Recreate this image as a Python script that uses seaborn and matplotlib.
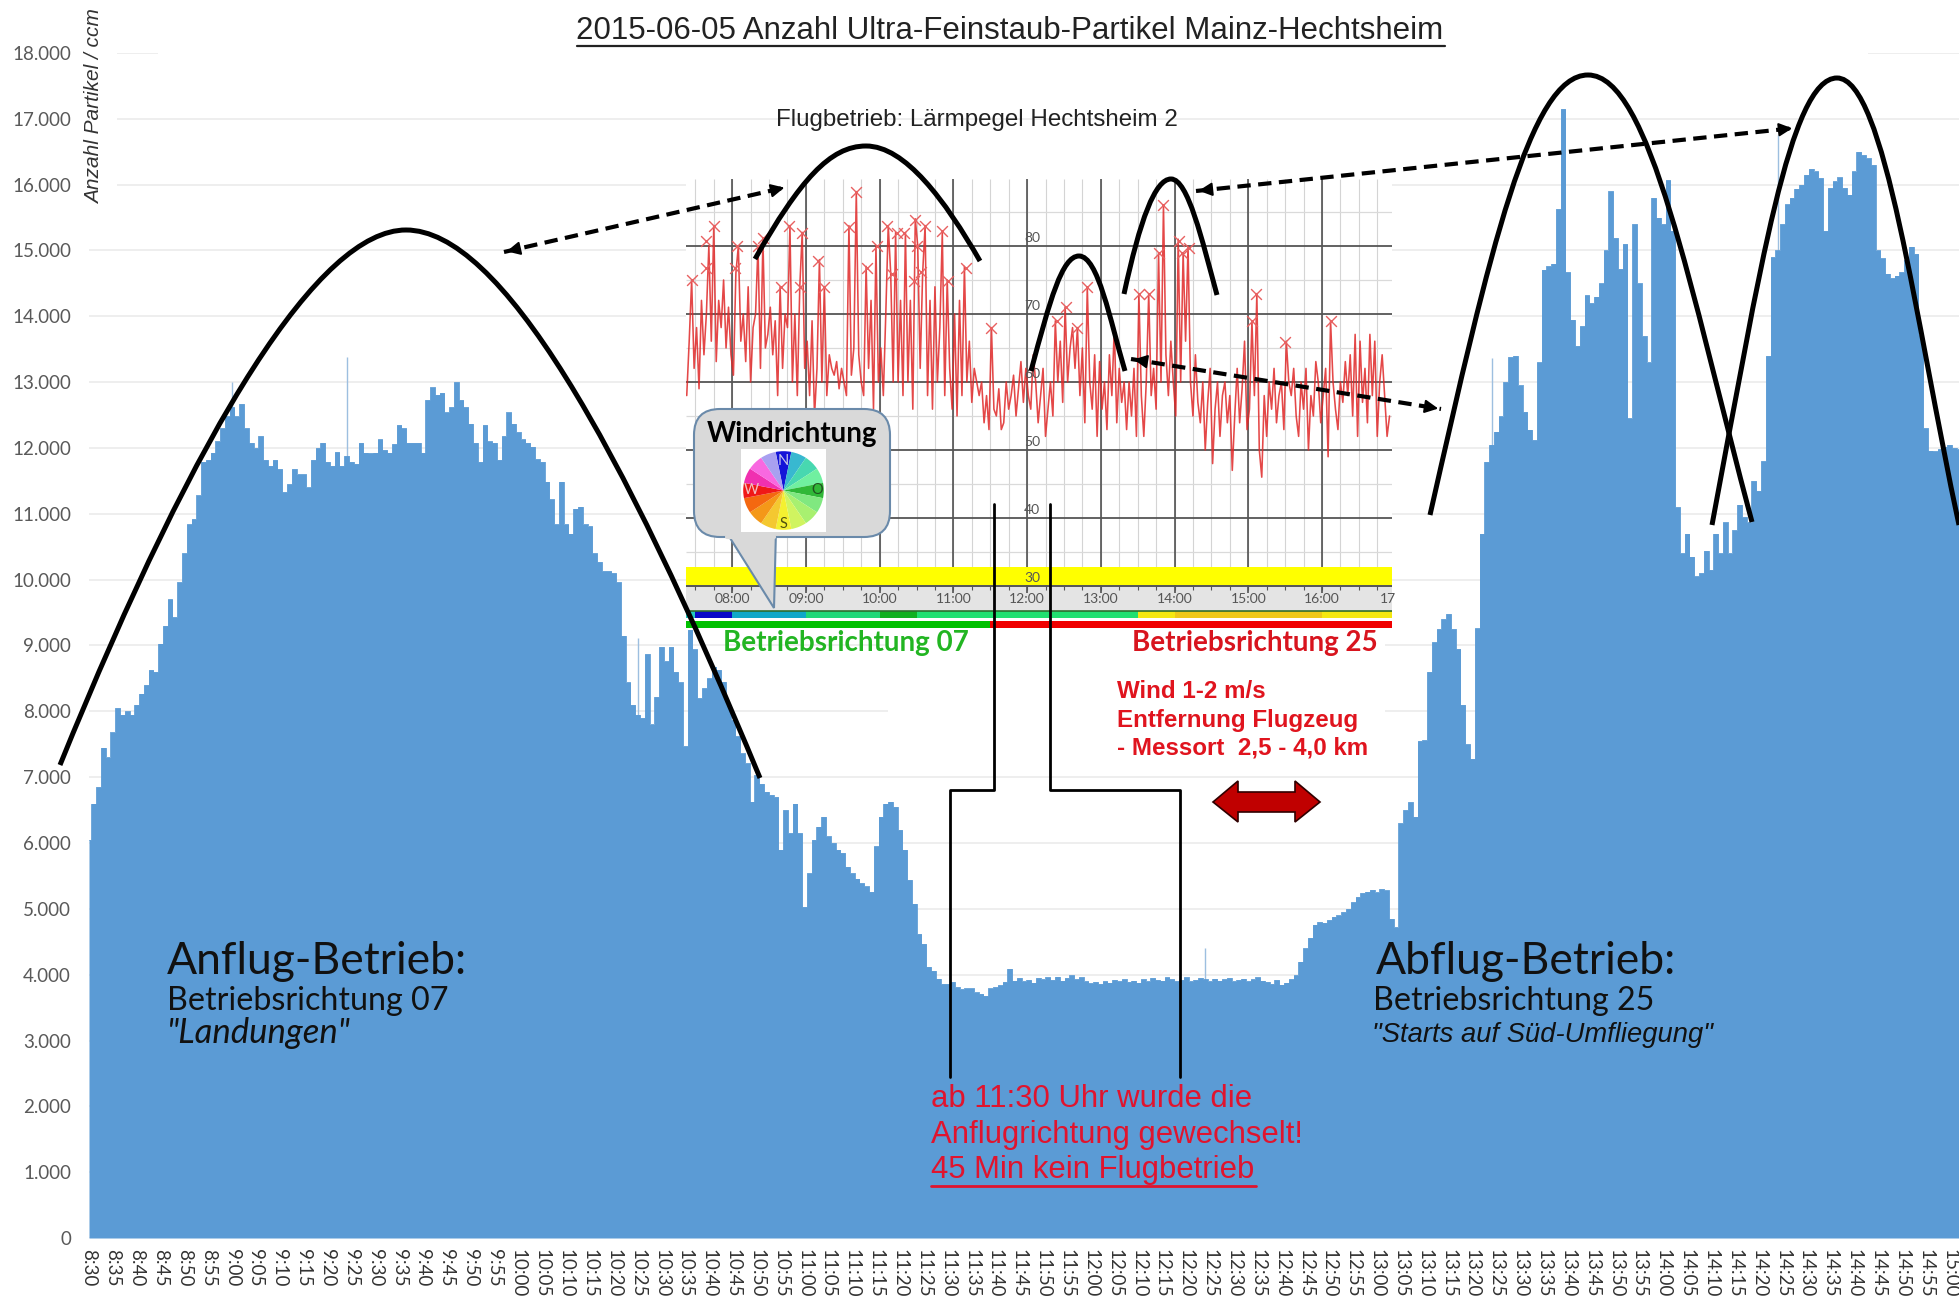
import numpy as np
import pandas as pd
import matplotlib
matplotlib.use("Agg")
import matplotlib.pyplot as plt
from matplotlib.patches import PathPatch, Polygon, FancyBboxPatch, Rectangle
from matplotlib.path import Path
import seaborn as sns

W, H = 1959, 1301

# particle counts, one value per minute from 8:30
particles = [
    6050, 6600, 6850, 7450, 7300, 7680, 8050, 7950, 8000, 7950,
    8100, 8270, 8400, 8630, 8600, 9030, 9300, 9700, 9430, 9960,
    10400, 10840, 10920, 11280, 11790, 11820, 11930, 12100, 12300, 12480,
    12620, 12480, 12670, 12300, 12080, 12000, 12180, 11820, 11730, 11820,
    11680, 11330, 11450, 11680, 11600, 11600, 11400, 11820, 12000, 12080,
    11790, 11730, 11940, 11730, 11880, 11790, 11760, 12080, 11930, 11920,
    11930, 12130, 11970, 11930, 12060, 12350, 12300, 12080, 12080, 12080,
    11930, 12730, 12920, 12810, 12840, 12540, 12620, 13000, 12730, 12620,
    12370, 12080, 11790, 12350, 12100, 12080, 11820, 12180, 12540, 12370,
    12240, 12130, 12080, 12020, 11830, 11790, 11490, 11220, 10840, 11490,
    10840, 10700, 11080, 11110, 10840, 10810, 10400, 10270, 10130, 10130,
    10100, 9960, 9150, 8440, 8100, 7950, 7900, 8870, 7800, 8220,
    8980, 8760, 8980, 8600, 8440, 7470, 9240, 8940, 8200, 8350,
    8500, 8680, 8630, 8450, 8100, 7870, 7620, 7360, 7210, 6630,
    7030, 6900, 6780, 6730, 6700, 5900, 6500, 6150, 6600, 6150,
    5030, 5540, 6050, 6250, 6400, 6100, 6000, 5900, 5850, 5640,
    5540, 5460, 5390, 5340, 5260, 5950, 6400, 6600, 6630, 6550,
    6200, 5900, 5440, 5080, 4620, 4470, 4120, 4060, 3940, 3860,
    3860, 3890, 3810, 3780, 3790, 3790, 3730, 3710, 3680, 3790,
    3810, 3840, 3890, 4090, 3910, 3950, 3900, 3920, 3880, 3950,
    3930, 3960, 3920, 3970, 3910, 3950, 3990, 3930, 3960, 3900,
    3870, 3890, 3860, 3900, 3880, 3920, 3900, 3930, 3890, 3910,
    3880, 3930, 3900, 3950, 3920, 3910, 3960, 3930, 3900, 3920,
    3960, 3900, 3920, 3950, 3930, 3900, 3940, 3910, 3930, 3950,
    3900, 3920, 3940, 3900, 3930, 3960, 3910, 3890, 3860, 3920,
    3850, 3880, 3930, 3990, 4200, 4400, 4560, 4760, 4800, 4790,
    4830, 4880, 4900, 4950, 5000, 5100, 5180, 5240, 5260, 5290,
    5250, 5300, 5280, 4850, 4720, 6300, 6500, 6620, 6400, 7550,
    7560, 8600, 9050, 9250, 9400, 9480, 9250, 8950, 8100, 7500,
    7280, 9260, 10700, 11790, 12050, 12250, 12480, 13000, 13380, 13400,
    12950, 12550, 12280, 12120, 13300, 14710, 14760, 14800, 15630, 17150,
    14670, 13950, 13550, 13850, 14320, 14200, 14300, 14500, 15000, 15900,
    15190, 14720, 15100, 12450, 15400, 14500, 13700, 13300, 15800, 15500,
    15400, 16070, 15300, 11100, 10400, 10700, 10350, 10050, 10100, 10440,
    10150, 10700, 10400, 10870, 10400, 10750, 11140, 10950, 10870, 11500,
    11350, 11800, 13400, 14900, 15000, 15400, 15700, 15800, 15940, 16000,
    16150, 16240, 16200, 16100, 15300, 15950, 16050, 16110, 15950, 15850,
    16200, 16500, 16450, 16400, 16300, 15000, 14880, 14650, 14580, 14620,
    14670, 14850, 15060, 14950, 13710, 12300, 11960, 11950, 11980, 12020,
    12050, 12000, 11980,
]

# short single readings that stick out of the area
spike_minutes = [30, 54, 115, 234, 294, 354]
spike_values = [13000, 13380, 9120, 4400, 13360, 16760]

y_ticks = list(range(0, 19000, 1000))
y_labels = ["0", "1.000", "2.000", "3.000", "4.000", "5.000", "6.000", "7.000", "8.000", "9.000",
            "10.000", "11.000", "12.000", "13.000", "14.000", "15.000", "16.000", "17.000", "18.000"]
x_ticks = list(range(0, 395, 5))
x_labels = [f"{8 + (30 + m) // 60}:{(30 + m) % 60:02d}" for m in x_ticks]

# noise level inset, every 2 minutes, starting 37 minutes before 08:00
noise = [
    58, 66, 75, 62, 68, 59, 72, 64, 70, 80,
    66, 83, 63, 72, 68, 75, 65, 71, 64,
    61, 76, 80, 66, 70, 63, 74, 60, 68, 70,
    80, 62, 81, 65, 67, 71, 64, 69, 58, 74,
    62, 70, 68, 83, 60, 70, 58, 74, 82, 62,
    66, 58, 69, 55, 62, 78, 60, 74, 58, 64,
    62, 61, 63, 59, 62, 60, 58, 83, 61, 65,
    88, 64, 60, 58, 77, 62, 72, 56, 80, 60,
    65, 58, 70, 83, 76, 60, 82, 60, 72, 58,
    82, 60, 72, 56, 84, 80, 62, 76, 83, 58,
    72, 56, 74, 60, 68, 82, 58, 75, 62, 56,
    70, 55, 72, 58, 77, 60, 66, 57, 62, 60,
    58, 60, 54, 58, 53, 68, 56, 55, 59, 53,
    54, 60, 56, 58, 61, 55, 59, 63, 57, 62,
    58, 56, 64, 60, 54, 58, 62, 52, 56, 60,
    55, 69, 60, 66, 57, 71, 60, 65, 68, 62,
    68, 58, 65, 54, 74, 60, 56, 64, 52, 63,
    56, 60, 53, 64, 58, 68, 54, 62, 57, 60,
    53, 60, 55, 62, 52, 73, 58, 52, 60, 73,
    58, 62, 56, 79, 60, 86, 64, 58, 66, 60,
    55, 81, 60, 79, 66, 80, 60, 55, 64, 57,
    54, 60, 50, 57, 62, 48, 56, 60, 52, 58,
    60, 54, 58, 47, 55, 62, 54, 59, 66, 53,
    56, 69, 58, 73, 50, 46, 58, 52, 60, 56,
    62, 54, 58, 60, 53, 66, 60, 58, 62, 55,
    52, 60, 56, 62, 50, 58, 55, 63, 60, 54,
    58, 62, 49, 69, 60, 56, 53, 60, 57, 63,
    58, 64, 55, 67, 52, 66, 57, 62, 54, 67,
    58, 66, 52, 60, 64, 58, 52, 55,
]
peak_minutes = [-33, -21, -15, -21, 4, 2, 21, 25, 46, 57, 40, 55, 70, 75, 95, 101, 118, 110,
                126, 130, 134, 140, 149, 157, 171, 150, 154, 148, 176, 190, 211, 264, 272,
                281, 289, 331, 339, 351, 347, 364, 366, 372, 426, 423, 450, 487]
peak_levels = [75, 80.8, 83, 76.8, 80, 76.7, 80, 81.1, 83, 81.9, 74, 74, 77.8, 74, 82.8, 87.9, 80, 76.7,
               83, 75.9, 81.9, 81.9, 83.8, 83, 82.2, 80, 76.2, 74.8, 74.8, 76.8, 68, 68.9, 71,
               68, 74, 72.9, 72.9, 86, 78.9, 80.8, 78.9, 79.7, 72.9, 68.9, 65.9, 68.9]
hour_minutes = [0, 60, 120, 180, 240, 300, 360, 420, 480]
hour_labels = ["08:00", "09:00", "10:00", "11:00", "12:00", "13:00", "14:00", "15:00", "16:00"]
level_ticks = [30, 40, 50, 60, 70, 80]

# wind and runway strips below the inset: start, end, colour
wind_start = [-38, -30, 0, 60, 120, 150, 330, 360, 480]
wind_end = [-30, 0, 60, 120, 150, 330, 360, 480, 540]
wind_colors = ["#20C8C0", "#0808C8", "#10A8C8", "#20D878", "#10B020", "#20E070", "#F4E810", "#EEC818", "#F4E810"]
runway_start = [-38, 210]
runway_end = [210, 540]
runway_colors = ["#00C000", "#F00000"]

rose_colors = ["#1414D8", "#38B8D0", "#48D8B0", "#70F0A0", "#30B838", "#80E880", "#A8F070", "#D0F460",
               "#F4F030", "#F4C830", "#F49818", "#F46810", "#F01818", "#F030B0", "#F868E0", "#A8A0F0"]

sns.set_theme(style="white")
plt.rcParams["font.family"] = ["Lato", "DejaVu Sans"]
ARIAL = "Liberation Sans"

df = pd.DataFrame({"minute": np.arange(len(particles)), "particles": particles})

fig = plt.figure(figsize=(W / 100, H / 100), dpi=100)


def px_axes(x0, y0, x1, y1, **kw):
    return fig.add_axes([x0 / W, 1 - y1 / H, (x1 - x0) / W, (y1 - y0) / H], **kw)


# main area chart
ax = px_axes(89, 53, W, 1238, zorder=1)
sns.lineplot(data=df, x="minute", y="particles", color="#5B9BD5", linewidth=0.6, errorbar=None,
             drawstyle="steps-mid", ax=ax, zorder=3)
ax.fill_between(df["minute"], df["particles"], step="mid", color="#5B9BD5", linewidth=0, zorder=3)
ax.vlines(spike_minutes, 0, spike_values, color="#9DBFE0", linewidth=1, zorder=2)
ax.set_xlim(0, 392)
ax.set_ylim(0, 18000)
ax.set_xlabel("")
ax.set_ylabel("")
ax.set_yticks(y_ticks, y_labels, color="#595959", fontsize=13.5)
ax.set_xticks(x_ticks, x_labels, rotation=-90, color="#333333", fontsize=13.5)
ax.tick_params(axis="y", length=0, pad=13)
ax.tick_params(axis="x", length=4, width=0.8, color="#E6E6E6", pad=4)
ax.grid(axis="y", color="#EBEBEB", linewidth=1.2, zorder=1)
sns.despine(ax=ax, left=True, bottom=True)

# inset noise chart
inset = px_axes(686, 179, 1392, 628, zorder=2)
noise_minutes = np.arange(len(noise)) * 2 - 37
sns.lineplot(x=noise_minutes, y=noise, color="#E02828", linewidth=1.15, alpha=0.85, errorbar=None, ax=inset, zorder=4)
sns.scatterplot(x=peak_minutes, y=peak_levels, marker="x", color="#E86060", s=60, linewidth=1, ax=inset, zorder=5)
inset.set_xlim(-37.6, 537)
inset.set_ylim(23.82, 89.85)
inset.set_facecolor("white")
for side in inset.spines.values():
    side.set_visible(False)
inset.set_xticks(hour_minutes, [])
inset.set_yticks(level_ticks, [])
inset.tick_params(which="both", length=0)
inset.vlines(np.arange(-30, 540, 15), 30, 89.85, color="#D4D4D4", linewidth=0.8, zorder=1)
inset.hlines(np.arange(35, 90, 10), -37.6, 537, color="#DADADA", linewidth=0.9, zorder=1)
inset.vlines(hour_minutes, 29, 89.85, color="#444444", linewidth=1.1, zorder=2)
inset.hlines([40, 50, 60, 70, 80], -37.6, 537, color="#555555", linewidth=1.3, zorder=2)
inset.axhspan(30.2, 32.8, color="#FFFF00", zorder=3, linewidth=0)
inset.axhspan(26.4, 30, color="#E4E4E4", zorder=1, linewidth=0)
inset.axhline(30, color="#555555", linewidth=1.4, zorder=3)
inset.vlines(np.arange(-30, 540, 15), 29.4, 30, color="#555555", linewidth=0.8, zorder=3)
inset.barh(25.75, np.subtract(wind_end, wind_start), left=wind_start, height=1.0, color=wind_colors,
           linewidth=0, zorder=3)
inset.axhline(26.3, color="#2E6B2E", linewidth=1.2, zorder=4)
inset.barh(24.3, np.subtract(runway_end, runway_start), left=runway_start, height=1.0, color=runway_colors,
           linewidth=0, zorder=3)
for m, lab in zip(hour_minutes, hour_labels):
    inset.text(m, 28.05, lab, ha="center", va="center", fontsize=10, color="#555555", zorder=5)
inset.text(534, 28.05, "17", ha="center", va="center", fontsize=10, color="#555555", zorder=5)
for lv in level_ticks:
    inset.text(244, lv + 1.2, str(lv), ha="center", va="center", fontsize=10, color="#555555", zorder=6)

# everything hand drawn on the slide sits on a pixel sized overlay
over = px_axes(0, 0, W, H, zorder=3)
over.set_xlim(0, W)
over.set_ylim(H, 0)
over.axis("off")
over.patch.set_alpha(0)

# white boxes of the slide that hide the grid
for (x0, y0, x1, y1) in [(158, 25, 1868, 70), (90, 0, 117, 205), (888, 628, 1385, 763)]:
    over.add_patch(Rectangle((x0, y0), x1 - x0, y1 - y0, color="white", zorder=0, linewidth=0))


def arc(start, c1, c2, top, c3, c4, end, lw=3.6):
    verts = [start, c1, c2, top, c3, c4, end]
    codes = [Path.MOVETO] + [Path.CURVE4] * 6
    over.add_patch(PathPatch(Path(verts, codes), fill=False, color="black", linewidth=lw, capstyle="butt", zorder=3))


arc((60, 765), (200, 420), (320, 230), (406, 230), (500, 230), (620, 440), (760, 778))
arc((755, 259), (800, 180), (830, 146), (866, 146), (905, 146), (945, 200), (980, 261))
arc((1031, 371), (1050, 300), (1062, 256), (1079, 256), (1098, 256), (1110, 320), (1125, 371))
arc((1124, 294), (1140, 220), (1155, 179), (1171, 179), (1188, 179), (1202, 240), (1217, 295))
arc((1430, 515), (1490, 250), (1530, 75), (1588, 75), (1650, 75), (1690, 290), (1752, 522))
arc((1712, 525), (1760, 270), (1790, 78), (1837, 78), (1885, 78), (1915, 320), (1959, 525))


def dashed_arrow(a, b):
    over.plot([a[0], b[0]], [a[1], b[1]], color="black", linewidth=3, linestyle=(0, (3.2, 1.8)), zorder=3)
    for tip, tail in [(a, b), (b, a)]:
        over.annotate("", xy=tip, xytext=(tip[0] + (tail[0] - tip[0]) * 0.03, tip[1] + (tail[1] - tip[1]) * 0.03),
                      arrowprops=dict(arrowstyle="-|>", color="black", lw=1.5, mutation_scale=20), zorder=4)


dashed_arrow((504, 252), (787, 187))
dashed_arrow((1196, 191), (1795, 128))
dashed_arrow((1131, 359), (1441, 409))

over.plot([994, 994, 950, 950], [504, 790, 790, 1077], color="black", linewidth=2, zorder=3)
over.plot([1050, 1050, 1180, 1180], [504, 790, 790, 1077], color="black", linewidth=2, zorder=3)

# red double arrow
over.add_patch(Polygon([(1213, 802), (1238, 781), (1238, 792), (1295, 792), (1295, 781), (1320, 802),
                        (1295, 822), (1295, 812), (1238, 812), (1238, 822)],
                       closed=True, facecolor="#C00000", edgecolor="#300000", linewidth=1.2, zorder=3))

# wind callout
over.add_patch(Polygon([(725, 530), (776, 530), (774, 608)], closed=True, facecolor="#D9D9D9", edgecolor="#6A8AAA", linewidth=1.5, zorder=4))
over.add_patch(FancyBboxPatch((714, 429), 156, 88, boxstyle="round,pad=20,rounding_size=26", facecolor="#D9D9D9",
                              edgecolor="#6A8AAA", linewidth=1.5, zorder=4))
over.plot([727, 774], [537, 537], color="#D9D9D9", linewidth=3, zorder=5)
over.add_patch(Rectangle((741, 449), 85, 83, facecolor="white", linewidth=0, zorder=5))
over.text(792, 434, "Windrichtung", fontsize=20, fontweight="bold", color="black", ha="center", va="center", zorder=6)

rose = px_axes(742, 450, 825, 531, zorder=4)
rose.pie([1] * len(rose_colors), colors=rose_colors, startangle=101.25, counterclock=False, radius=1.0,
         wedgeprops=dict(linewidth=0))
rose.set_xlim(-1.03, 1.03)
rose.set_ylim(-1.03, 1.03)
rose.set_aspect("auto")
rose.text(0, 0.76, "N", fontsize=10.5, color="#C8C8E8", ha="center", va="center")
rose.text(0.85, 0, "O", fontsize=10.5, color="#205020", ha="center", va="center")
rose.text(0, -0.84, "S", fontsize=10.5, color="#505010", ha="center", va="center")
rose.text(-0.8, 0, "W", fontsize=10.5, color="#F0C0C0", ha="center", va="center")

# texts
over.text(1010, 31, "2015-06-05 Anzahl Ultra-Feinstaub-Partikel Mainz-Hechtsheim", family=ARIAL, fontsize=22.5,
          color="#222222", ha="center", va="center", zorder=6)
over.plot([577, 1445], [46, 46], color="#222222", linewidth=1.6, zorder=6)
over.text(95, 107, "Anzahl Partikel / ccm", family=ARIAL, fontsize=15, style="italic", rotation=90, color="#333333",
          ha="center", va="center", zorder=6)
over.text(776, 120, "Flugbetrieb: Lärmpegel Hechtsheim 2", family=ARIAL, fontsize=17.4, color="#222222", va="center", zorder=6)

over.text(167, 962, "Anflug-Betrieb:", fontsize=32, color="#111111", va="center", zorder=6)
over.text(167, 1001, "Betriebsrichtung 07", fontsize=23.2, color="#111111", va="center", zorder=6)
over.text(167, 1033, '"Landungen"', fontsize=25, style="italic", color="#111111", va="center", zorder=6)
over.text(1376, 962, "Abflug-Betrieb:", fontsize=32, color="#111111", va="center", zorder=6)
over.text(1373, 1001, "Betriebsrichtung 25", fontsize=23.2, color="#111111", va="center", zorder=6)
over.text(1372, 1035, '"Starts auf Süd-Umfliegung"', family=ARIAL, fontsize=19.7, style="italic", color="#111111", va="center", zorder=6)

over.text(723, 643, "Betriebsrichtung 07", fontsize=20, fontweight="bold", color="#22B522", va="center", zorder=6)
over.text(1132, 643, "Betriebsrichtung 25", fontsize=20, fontweight="bold", color="#D8141E", va="center", zorder=6)
over.text(1117, 691, "Wind 1-2 m/s", family=ARIAL, fontsize=17.4, fontweight="bold", color="#E0141E", va="center", zorder=6)
over.text(1117, 720, "Entfernung Flugzeug", family=ARIAL, fontsize=17.4, fontweight="bold", color="#E0141E", va="center", zorder=6)
over.text(1117, 748, "- Messort  2,5 - 4,0 km", family=ARIAL, fontsize=17.4, fontweight="bold", color="#E0141E", va="center", zorder=6)

over.text(931, 1099, "ab 11:30 Uhr wurde die", family=ARIAL, fontsize=22.4, color="#E0142E", va="center", zorder=6)
over.text(931, 1135, "Anflugrichtung gewechselt!", family=ARIAL, fontsize=22.4, color="#E0142E", va="center", zorder=6)
over.text(931, 1170, "45 Min kein Flugbetrieb", family=ARIAL, fontsize=22.4, color="#E0142E", va="center", zorder=6)
over.plot([931, 1256], [1186, 1186], color="#E0142E", linewidth=2, zorder=6)

fig.savefig("out.png", dpi=100)
